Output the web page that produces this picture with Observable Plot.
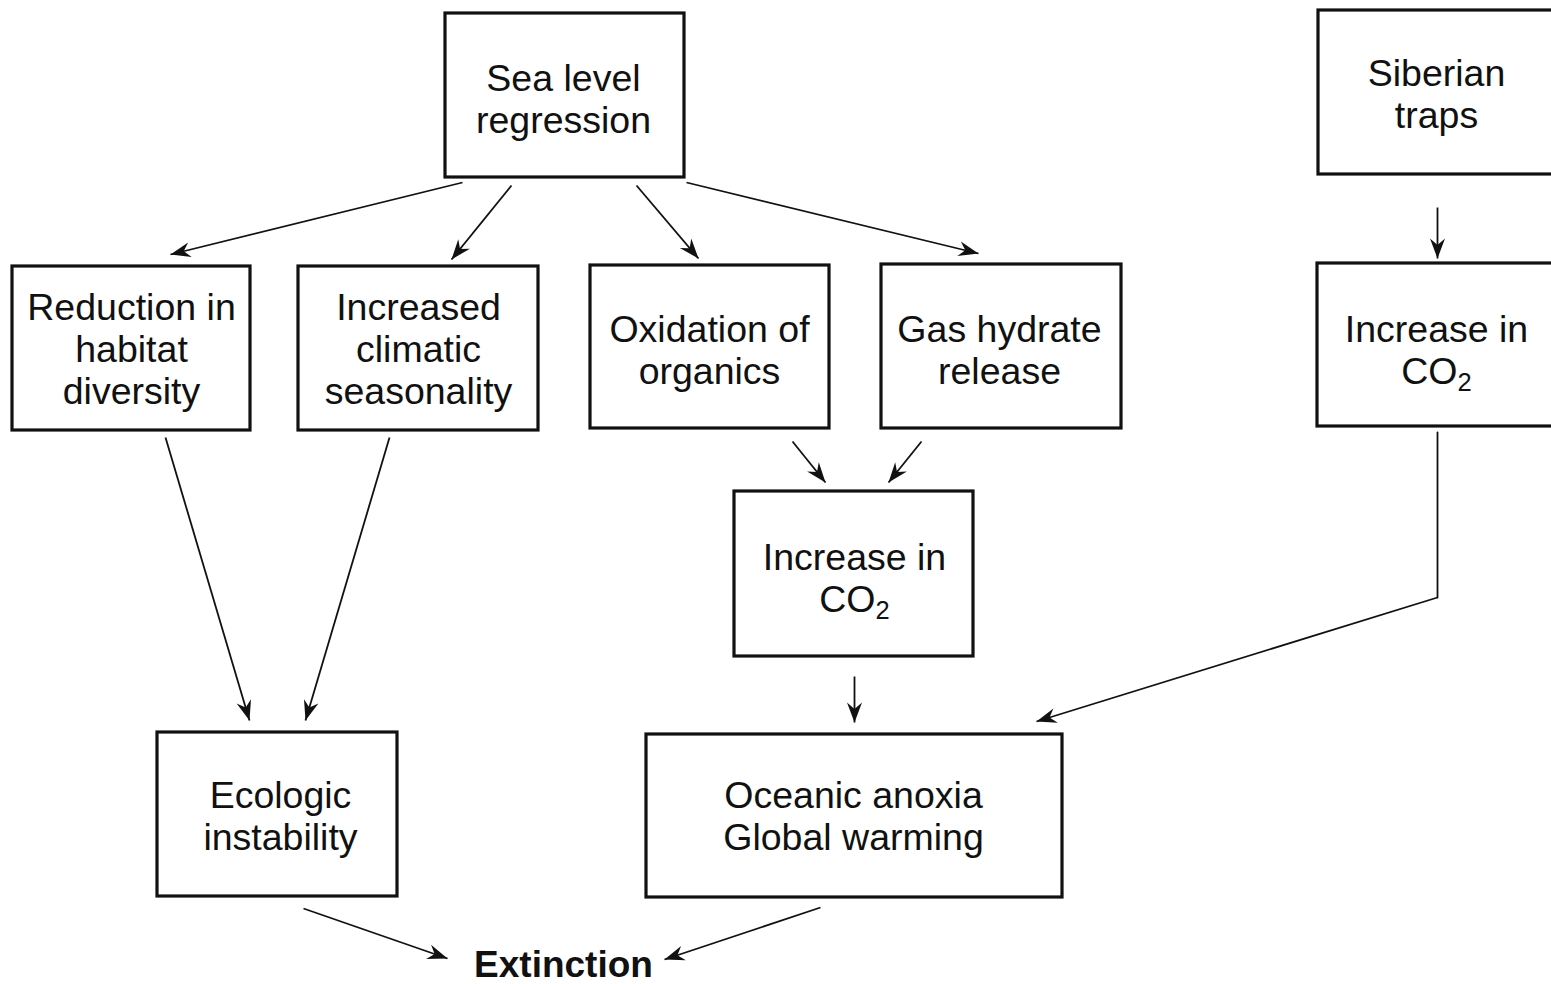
<!DOCTYPE html>
<html>
<head>
<meta charset="utf-8">
<script src="https://cdn.jsdelivr.net/npm/d3@7"></script>
<script src="https://cdn.jsdelivr.net/npm/@observablehq/plot@0.6"></script>
<style>
  html, body { margin: 0; padding: 0; background: #fff; }
  #chart svg { display: block; }
</style>
</head>
<body>
<div id="chart"></div>
<script>
// ---- Data: nodes of the flow diagram ----
const nodeLabels = [
  "Sea level\nregression",
  "Siberian\ntraps",
  "Reduction in\nhabitat\ndiversity",
  "Increased\nclimatic\nseasonality",
  "Oxidation of\norganics",
  "Gas hydrate\nrelease",
  "Increase in\nCO₂",
  "Increase in\nCO₂",
  "Ecologic\ninstability",
  "Oceanic anoxia\nGlobal warming"
];
// layout (diagram coordinates)
const boxLeft   = [445, 1318,  12, 298, 590,  881, 1317, 734, 157, 646];
const boxRight  = [684, 1570, 250, 538, 829, 1121, 1570, 973, 397, 1062];
const boxTop    = [ 13,   10, 266, 266, 265,  264,  263, 491, 732, 734];
const boxBottom = [177,  174, 430, 430, 428,  428,  426, 656, 896, 897];
const labelX    = [563, 1436, 131, 418, 709,  999, 1436, 854, 280, 853];
const labelY    = [ 98,   93, 348, 348, 349,  349,  349, 577, 815, 815];

const finalLabel = ["Extinction"];
const finalX = [563];
const finalY = [965];

// ---- Edges (arrows) ----
const edgeFrom = ["Sea level", "Sea level", "Sea level", "Sea level", "Siberian", "Reduction", "Increased", "Oxidation", "Gas hydrate", "CO2 mid", "CO2 right", "Ecologic", "Oceanic"];
const edgeX1 = [462, 511, 636, 686, 1437, 165, 389, 792, 921, 854, 1437, 303, 820];
const edgeY1 = [182, 185, 185, 182,  207, 437, 437, 441, 441, 676,  597, 908, 907];
const edgeX2 = [170, 451, 698, 978, 1437, 249, 305, 825, 888, 854, 1036, 447, 664];
const edgeY2 = [254, 259, 258, 253,  258, 720, 720, 482, 482, 722,  721, 958, 959];

// elbow segment (no head) for the right-hand CO2 link
const elbowX = [1437, 1437];
const elbowY = [432, 597];

const nodes = nodeLabels.map((t, i) => ({
  text: t, x1: boxLeft[i], x2: boxRight[i], y1: boxTop[i], y2: boxBottom[i], cx: labelX[i], cy: labelY[i]
}));
const edges = edgeFrom.map((f, i) => ({
  from: f, x1: edgeX1[i], y1: edgeY1[i], x2: edgeX2[i], y2: edgeY2[i],
  angle: Math.atan2(edgeX2[i] - edgeX1[i], -(edgeY2[i] - edgeY1[i])) * 180 / Math.PI
}));
const elbow = elbowX.map((x, i) => ({x, y: elbowY[i]}));
const finals = finalLabel.map((t, i) => ({text: t, x: finalX[i], y: finalY[i]}));

// barbed arrowhead symbol: tip at the origin, pointing "up"
const barb = {
  draw(context, size) {
    const r = Math.sqrt(size / Math.PI);
    const L = 2.0 * r, w = 0.75 * r;
    context.moveTo(0, 0);
    context.lineTo(-w, L);
    context.lineTo(0, L * 0.68);
    context.lineTo(w, L);
    context.closePath();
  }
};

const FONT = "Liberation Sans, Arial, Helvetica, sans-serif";
const W = 1551, H = 984;
const chart = Plot.plot({
  width: W,
  height: H,
  margin: 0,
  style: {background: "#fff", overflow: "hidden"},
  x: {domain: [0, W], range: [0, W], axis: null},
  y: {domain: [0, H], range: [0, H], axis: null},
  marks: [
    Plot.rect(nodes, {x1: "x1", x2: "x2", y1: "y1", y2: "y2", fill: "white", stroke: "#111", strokeWidth: 3.2}),
    Plot.text(nodes, {
      x: "cx", y: "cy", text: "text",
      fontFamily: FONT, fontSize: 37.5, lineHeight: 1.12, fill: "#111",
      textAnchor: "middle", lineAnchor: "middle"
    }),
    Plot.line(elbow, {x: "x", y: "y", stroke: "#111", strokeWidth: 1.8}),
    Plot.link(edges, {x1: "x1", y1: "y1", x2: "x2", y2: "y2", stroke: "#111", strokeWidth: 1.8}),
    Plot.dot(edges, {x: "x2", y: "y2", rotate: "angle", symbol: barb, r: 10, fill: "#111", stroke: "none"}),
    Plot.text(finals, {
      x: "x", y: "y", text: "text",
      fontFamily: FONT, fontSize: 37, fontWeight: "bold", fill: "#111",
      textAnchor: "middle", lineAnchor: "middle"
    })
  ]
});
// render the "2" of CO₂ as a proper subscript
chart.querySelectorAll("tspan, text").forEach(el => {
  if (el.children.length === 0 && el.textContent.includes("₂")) {
    const ns = "http://www.w3.org/2000/svg";
    el.textContent = "CO";
    const sub = document.createElementNS(ns, "tspan");
    sub.setAttribute("dy", "0.28em");
    sub.setAttribute("font-size", "0.68em");
    sub.textContent = "2";
    el.appendChild(sub);
  }
});
document.getElementById("chart").appendChild(chart);
</script>
</body>
</html>
